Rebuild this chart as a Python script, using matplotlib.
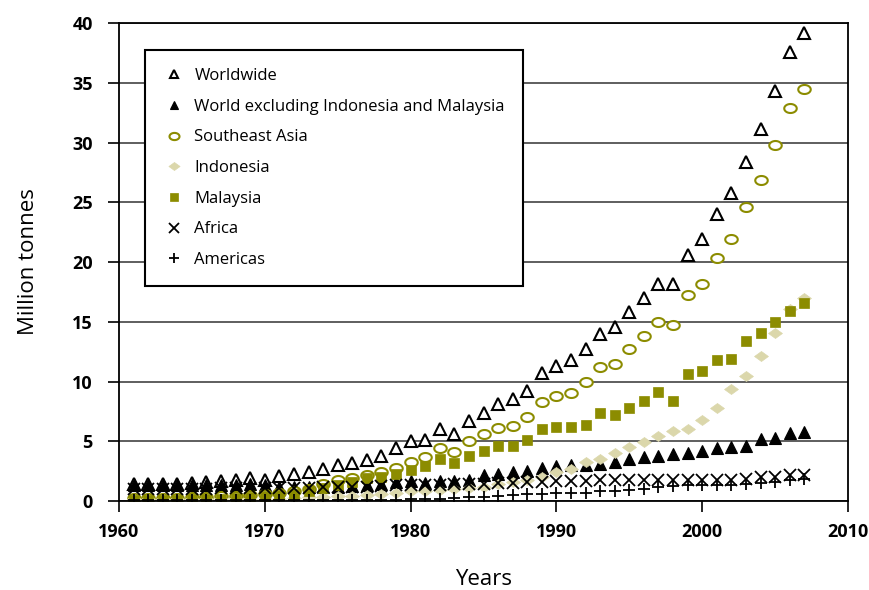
import numpy as np
import matplotlib
matplotlib.use('Agg')
import matplotlib.pyplot as plt
from matplotlib.path import Path

plt.rcParams['font.family'] = ['Open Sans', 'DejaVu Sans']

years = list(range(1961, 2008))

worldwide = [1.4, 1.4, 1.4, 1.4, 1.5, 1.6, 1.7, 1.8, 1.9, 1.75,
             2.1, 2.3, 2.4, 2.7, 3.0, 3.2, 3.4, 3.8, 4.4, 5.0,
             5.1, 6.0, 5.6, 6.7, 7.4, 8.1, 8.5, 9.2, 10.7, 11.3,
             11.8, 12.7, 14.0, 14.6, 15.8, 17.0, 18.2, 18.2, 20.6, 21.9,
             24.0, 25.8, 28.4, 31.1, 34.3, 37.6, 39.2]
world_excl = [1.3, 1.3, 1.3, 1.3, 1.3, 1.3, 1.3, 1.35, 1.4, 1.3,
              1.2, 1.2, 1.2, 1.2, 1.2, 1.25, 1.3, 1.4, 1.6, 1.7,
              1.5, 1.65, 1.65, 1.8, 2.2, 2.3, 2.4, 2.5, 2.8, 2.9,
              3.0, 3.0, 3.1, 3.3, 3.5, 3.7, 3.8, 3.9, 4.0, 4.2,
              4.4, 4.5, 4.6, 5.2, 5.3, 5.7, 5.8]
se_asia = [0.25, 0.25, 0.25, 0.25, 0.3, 0.35, 0.4, 0.45, 0.5, 0.6,
           0.7, 0.85, 1.0, 1.4, 1.75, 1.9, 2.2, 2.4, 2.8, 3.3,
           3.7, 4.4, 4.1, 5.0, 5.6, 6.1, 6.3, 7.0, 8.3, 8.8,
           9.0, 10.0, 11.2, 11.5, 12.7, 13.8, 15.0, 14.7, 17.2, 18.2,
           20.3, 21.9, 24.6, 26.9, 29.8, 32.9, 34.5]
indonesia = [0.15, 0.15, 0.15, 0.15, 0.15, 0.15, 0.2, 0.2, 0.2, 0.2,
             0.2, 0.25, 0.3, 0.35, 0.4, 0.45, 0.5, 0.55, 0.65, 0.8,
             0.85, 0.95, 1.0, 1.1, 1.2, 1.4, 1.6, 1.75, 2.0, 2.4,
             2.7, 3.3, 3.5, 4.0, 4.5, 4.9, 5.4, 5.9, 6.0, 6.8,
             7.8, 9.4, 10.5, 12.1, 14.1, 16.1, 17.0]
malaysia = [0.1, 0.1, 0.1, 0.1, 0.15, 0.2, 0.2, 0.25, 0.3, 0.4,
            0.5, 0.6, 0.8, 1.1, 1.3, 1.6, 1.9, 2.0, 2.3, 2.6,
            2.9, 3.5, 3.2, 3.8, 4.2, 4.6, 4.6, 5.1, 6.0, 6.2,
            6.2, 6.4, 7.4, 7.2, 7.8, 8.4, 9.1, 8.4, 10.6, 10.9,
            11.8, 11.9, 13.4, 14.1, 15.0, 15.9, 16.6]
africa = [1.0, 1.0, 1.0, 1.0, 1.0, 1.0, 1.05, 1.05, 1.1, 1.1,
          1.1, 1.1, 1.1, 1.2, 1.2, 1.2, 1.2, 1.25, 1.3, 1.35,
          1.35, 1.35, 1.4, 1.4, 1.45, 1.5, 1.55, 1.6, 1.6, 1.65,
          1.7, 1.7, 1.75, 1.75, 1.75, 1.75, 1.8, 1.8, 1.8, 1.8,
          1.75, 1.8, 1.85, 2.0, 2.0, 2.2, 2.2]
americas = [0.05, 0.05, 0.05, 0.05, 0.05, 0.05, 0.05, 0.05, 0.05, 0.05,
            0.05, 0.05, 0.05, 0.05, 0.05, 0.1, 0.1, 0.1, 0.1, 0.15,
            0.2, 0.2, 0.25, 0.3, 0.35, 0.4, 0.5, 0.55, 0.6, 0.65,
            0.7, 0.7, 0.8, 0.85, 0.95, 1.0, 1.15, 1.25, 1.3, 1.3,
            1.3, 1.35, 1.4, 1.55, 1.6, 1.8, 1.85]

labels = ["Worldwide", "World excluding Indonesia and Malaysia", "Southeast Asia",
          "Indonesia", "Malaysia", "Africa", "Americas"]

olive = '#8c8c00'
tan = '#dbd7ab'

# flattened marker shapes
t = np.linspace(0, 2 * np.pi, 40)
ellipse = Path(np.column_stack([np.cos(t), 0.72 * np.sin(t)]), closed=True)
flat_diamond = Path([(0, 0.72), (1, 0), (0, -0.72), (-1, 0), (0, 0.72)], closed=True)

fig = plt.figure(figsize=(8.7, 5.9), dpi=100)
ax = fig.add_axes([0.1368, 0.1508, 0.8379, 0.8102])

ax.plot(years, worldwide, ls='none', marker='^', ms=8, mfc='white', mec='black', mew=1.5, label=labels[0])
ax.plot(years, world_excl, ls='none', marker='^', ms=8, mfc='black', mec='black', mew=0.8, label=labels[1])
ax.plot(years, se_asia, ls='none', marker=ellipse, ms=9, mfc='white', mec=olive, mew=1.5, label=labels[2])
ax.plot(years, indonesia, ls='none', marker=flat_diamond, ms=10, mfc=tan, mec=tan, mew=0.5, label=labels[3])
ax.plot(years, malaysia, ls='none', marker='s', ms=7.5, mfc=olive, mec=olive, mew=0.5, label=labels[4])
ax.plot(years, africa, ls='none', marker='x', ms=8.5, mec='black', mew=1.3, label=labels[5])
ax.plot(years, americas, ls='none', marker='+', ms=8.5, mec='black', mew=1.3, label=labels[6])

ax.set_xlim(1960, 2010)
ax.set_ylim(0, 40)
ax.set_xticks(range(1960, 2011, 10))
ax.set_yticks(range(0, 41, 5))
ax.yaxis.grid(True, color='#333333', lw=1.1)
ax.set_axisbelow(True)
for s in ax.spines.values():
    s.set_linewidth(1.3)
    s.set_color('black')
ax.tick_params(direction='out', length=8, width=1.2, labelsize=13)
ax.tick_params(axis='x', pad=8)
ax.tick_params(axis='y', pad=11)
for lab in ax.get_xticklabels() + ax.get_yticklabels():
    lab.set_fontweight('bold')

ax.set_xlabel('Years', fontsize=16, labelpad=20)
ax.set_ylabel('Million tonnes', fontsize=16, labelpad=24)

leg = ax.legend(loc='upper left', bbox_to_anchor=(0.036, 0.944), borderaxespad=0,
                fancybox=False, framealpha=1, edgecolor='black', fontsize=12,
                labelspacing=0.88, handlelength=1.2, handletextpad=0.65, borderpad=1.1,
                markerscale=0.8)
leg.get_frame().set_linewidth(1.5)

fig.savefig('out.png', dpi=100)
